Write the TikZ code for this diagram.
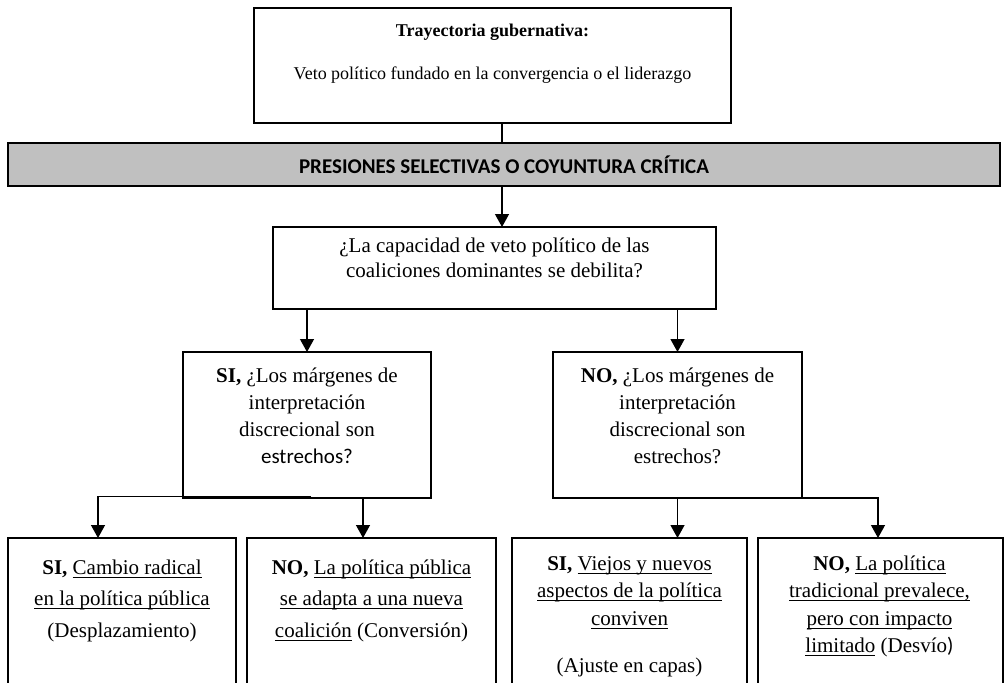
\documentclass[tikz,border=0pt]{standalone}
\usepackage{fontspec}
\setmainfont{Liberation Serif}
\newfontfamily\calib{Carlito}
\usetikzlibrary{arrows.meta,calc}

\definecolor{barfill}{RGB}{192,192,192}

% underline at a fixed distance below the baseline
\newcommand\undl[1]{\setbox0\hbox{#1}\rlap{\rule[-3.6pt]{\wd0}{1.1pt}}\box0\relax}

\begin{document}
\begin{tikzpicture}[x=1pt,y=-1pt,
  box/.style={draw, line width=2.8pt, rectangle, inner sep=0pt, outer sep=0pt,
              anchor=north west, fill=white},
  bar/.style={box, fill=barfill},
  conn/.style={line width=1.3pt},
  arr/.style={conn, -{Triangle[width=14pt,length=13pt]}},
  txt/.style={inner sep=0pt, outer sep=0pt, anchor=base,
              font=\fontsize{21}{27}\selectfont},
]
\path[use as bounding box] (0,0) rectangle (1008,682);
\clip (0,0) rectangle (1008,682);

% boxes
\node[box, minimum width=477pt, minimum height=115pt] (top) at (254,8) {};
\node[bar, minimum width=992pt, minimum height=43pt,
      font=\fontsize{21}{25}\selectfont\calib\bfseries] (bar) at (8,143)
      {PRESIONES SELECTIVAS O COYUNTURA CRÍTICA};
\node[box, minimum width=443pt, minimum height=82pt] (q) at (273,227) {};
\node[box, minimum width=248pt, minimum height=146pt] (si) at (183,352) {};
\node[box, minimum width=249pt, minimum height=146pt] (no) at (553,352) {};
\node[box, minimum width=228pt, minimum height=160pt] (b1) at (8,538) {};
\node[box, minimum width=249pt, minimum height=160pt] (b2) at (247,538) {};
\node[box, minimum width=235pt, minimum height=160pt] (b3) at (512,538) {};
\node[box, minimum width=245pt, minimum height=160pt] (b4) at (758,538) {};

% texts
\node[txt, font=\fontsize{18}{22}\selectfont\bfseries] (ttl) at (492.5,37)
  {Trayectoria gubernativa:};
\node[txt, font=\fontsize{18}{22}\selectfont] (ttx) at (492.5,80)
  {Veto político fundado en la convergencia o el liderazgo};
\node[txt, font=\fontsize{21}{25}\selectfont] (qt) at (494.5,252)
  {\begin{tabular}[t]{@{}c@{}}¿La capacidad de veto político de las\\
   coaliciones dominantes se debilita?\end{tabular}};
\node[txt] (sit) at (307,382)
  {\begin{tabular}[t]{@{}c@{}}\textbf{SI,} ¿Los márgenes de\\interpretación\\
   discrecional son\\{\calib estrechos?}\end{tabular}};
\node[txt] (not) at (677.5,382)
  {\begin{tabular}[t]{@{}c@{}}\textbf{NO,} ¿Los márgenes de\\interpretación\\
   discrecional son\\estrechos?\end{tabular}};
\node[txt, font=\fontsize{21}{31.5}\selectfont] (t1) at (122,574)
  {\begin{tabular}[t]{@{}c@{}}\textbf{SI,} \undl{Cambio radical}\\
   \undl{en la política pública}\\(Desplazamiento)\end{tabular}};
\node[txt, font=\fontsize{21}{31.5}\selectfont] (t2) at (371.5,574)
  {\begin{tabular}[t]{@{}c@{}}\textbf{NO,} \undl{La política pública}\\
   \undl{se adapta a una nueva}\\\undl{coalición} (Conversión)\end{tabular}};
\node[txt, font=\fontsize{21}{27.5}\selectfont] (t3) at (629.5,570)
  {\begin{tabular}[t]{@{}c@{}}\textbf{SI,} \undl{Viejos y nuevos}\\
   \undl{aspectos de la política}\\\undl{conviven}\\[20pt]
   (Ajuste en capas)\end{tabular}};
\node[txt, font=\fontsize{21}{27.5}\selectfont] (t4) at (879.5,570)
  {\begin{tabular}[t]{@{}c@{}}\textbf{NO,} \undl{La política}\\
   \undl{tradicional prevalece,}\\\undl{pero con impacto}\\
   \undl{limitado} (Desvío{\calib )}\end{tabular}};

% connectors
\coordinate (mid) at (502,0);
\coordinate (k1) at ([xshift=90pt]b1.north west);
\coordinate (k2) at ([xshift=-8.5pt]b2.north);
\coordinate (k4) at ([xshift=-2.5pt]b4.north);

\draw[conn] (top.south -| mid) -- (bar.north -| mid);
\draw[arr] (bar.south -| mid) -- (q.north -| mid);
\draw[arr] (q.south -| si.north) -- (si.north);
\draw[arr] (q.south -| no.north) -- (no.north);
\draw[arr] ([xshift=4pt,yshift=1.5pt]si.south) -| (k1);
\draw[arr] (k2 |- si.south) -- (k2);
\draw[arr] (no.south) -- (no.south |- b3.north);
\draw[arr] (no.south east) -| (k4);
\end{tikzpicture}
\end{document}
